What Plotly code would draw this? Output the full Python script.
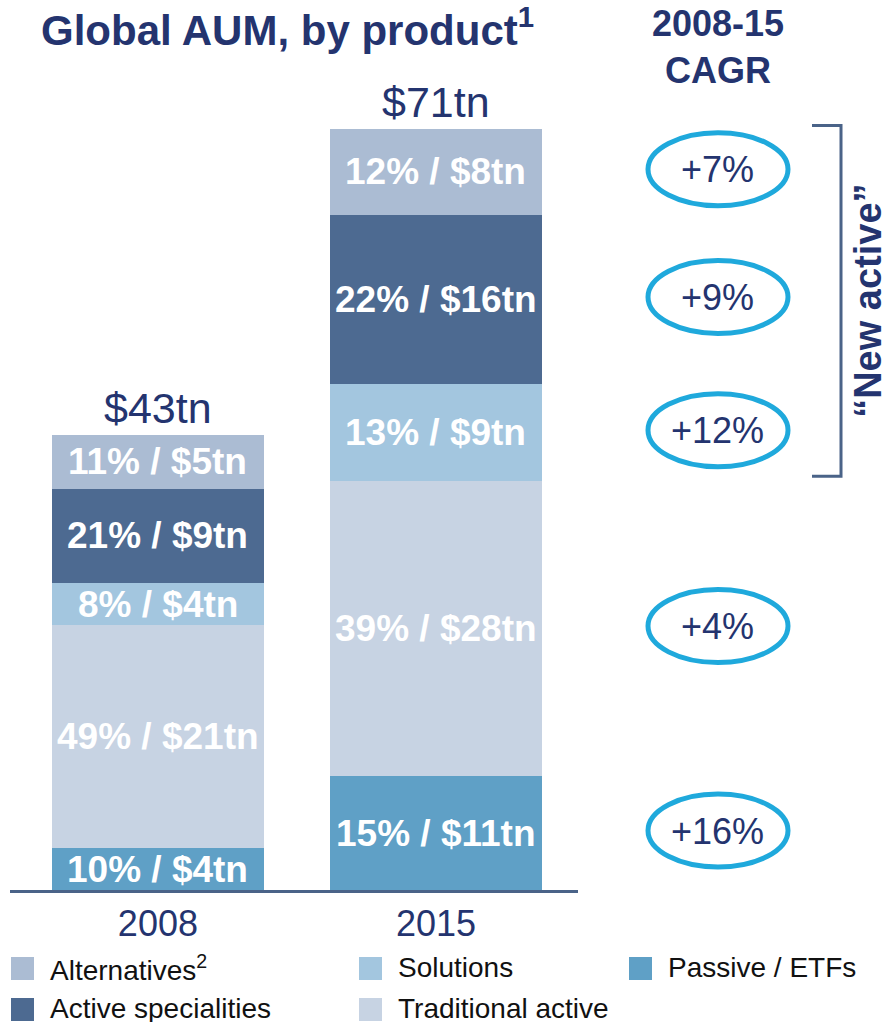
import plotly.graph_objects as go

# ---------------- data ----------------
years = ["2008", "2015"]
series_names = ["Passive / ETFs", "Traditional active", "Solutions",
                "Active specialities", "Alternatives<sup>2</sup>"]
aum_2008 = [3.9, 21.0, 3.9, 8.9, 5.0]      # $tn, bottom -> top
aum_2015 = [10.7, 27.7, 9.1, 15.9, 8.1]    # $tn, bottom -> top
labels_2008 = ["10% / $4tn", "49% / $21tn", "8% / $4tn", "21% / $9tn", "11% / $5tn"]
labels_2015 = ["15% / $11tn", "39% / $28tn", "13% / $9tn", "22% / $16tn", "12% / $8tn"]
total_labels = ["$43tn", "$71tn"]
cagr_labels = ["+16%", "+4%", "+12%", "+9%", "+7%"]

# ---------------- style ----------------
colors = ["#5fa0c6", "#c7d3e3", "#a3c6df", "#4d6a91", "#abbcd3"]
navy = "#24346f"
axis_col = "#4a6388"
ellipse_col = "#1fa9dc"
FONT = "Liberation Sans, Arial, sans-serif"

W, H = 890, 1022
L, R, T, B = 10, 312, 20, 132
plot_w = W - L - R
plot_h = H - T - B
ymax = 81.7


def px_x(px):
    return (px - L) / plot_w


def px_y(py):
    return (H - B - py) / plot_h


fig = go.Figure()
for i, name in enumerate(series_names):
    fig.add_trace(go.Bar(
        x=years, y=[aum_2008[i], aum_2015[i]], name=name,
        marker=dict(color=colors[i], line=dict(width=0)),
        width=0.763, showlegend=False, hoverinfo="skip"))

annotations = []
shapes = []

# segment labels + totals (x given as category index)
for yi, (vals, labs) in enumerate([(aum_2008, labels_2008), (aum_2015, labels_2015)]):
    cum = 0
    for v, lab in zip(vals, labs):
        annotations.append(dict(x=yi, y=cum + v / 2, text=f"<b>{lab}</b>", showarrow=False,
                                font=dict(family=FONT, size=37, color="white"),
                                xanchor="center", yanchor="middle"))
        cum += v
    annotations.append(dict(x=yi, y=cum, text=total_labels[yi], showarrow=False,
                            font=dict(family=FONT, size=43, color=navy),
                            xanchor="center", yanchor="bottom", yshift=1))

# CAGR ellipses + labels (aligned to 2015 segments)
cx0, cx1 = px_x(648), px_x(788)
cum = 0
for v, lab in zip(aum_2015, cagr_labels):
    mid = cum + v / 2
    cum += v
    shapes.append(dict(type="circle", xref="paper", yref="y", x0=cx0, x1=cx1,
                       ysizemode="pixel", yanchor=mid, y0=-34, y1=39,
                       line=dict(color=ellipse_col, width=5)))
    annotations.append(dict(xref="paper", yref="y", x=(cx0 + cx1) / 2, y=mid, text=lab,
                            showarrow=False, font=dict(family=FONT, size=36, color=navy),
                            xanchor="center", yanchor="middle", yshift=2))

# "New active" bracket
b_bot = aum_2015[0] + aum_2015[1] + 0.45
b_top = sum(aum_2015) + 0.3
bx, btx = px_x(841), px_x(812)
shapes.append(dict(type="path", xref="paper", yref="y",
                   path=f"M {btx},{b_top} L {bx},{b_top} L {bx},{b_bot} L {btx},{b_bot}",
                   line=dict(color=axis_col, width=3)))
annotations.append(dict(xref="paper", yref="y", x=px_x(868), y=(b_top + b_bot) / 2,
                        text="<b>\u201cNew active\u201d</b>", textangle=-90, showarrow=False,
                        font=dict(family=FONT, size=38, color=navy),
                        xanchor="center", yanchor="middle"))

# Titles
annotations.append(dict(xref="paper", yref="paper", x=px_x(287), y=px_y(27),
                        text="<b>Global AUM, by product<sup>1</sup></b>", showarrow=False,
                        font=dict(family=FONT, size=42, color=navy),
                        xanchor="center", yanchor="middle"))
annotations.append(dict(xref="paper", yref="paper", x=px_x(718), y=px_y(47),
                        text="<b>2008-15<br>CAGR</b>", showarrow=False,
                        font=dict(family=FONT, size=36, color=navy),
                        xanchor="center", yanchor="middle"))

# Manual legend
legend_pos = {  # series index -> (square left px, row top px)
    4: (11, 957), 2: (359, 957), 0: (629, 957),
    3: (11, 998), 1: (359, 998),
}
for idx, (lx, ty) in legend_pos.items():
    shapes.append(dict(type="rect", xref="paper", yref="paper",
                       x0=px_x(lx), x1=px_x(lx + 23), y0=px_y(ty + 23), y1=px_y(ty),
                       fillcolor=colors[idx], line=dict(width=0)))
    annotations.append(dict(xref="paper", yref="paper", x=px_x(lx + 37), y=px_y(ty + 10.5),
                            text=series_names[idx], showarrow=False,
                            font=dict(family=FONT, size=28, color="#111111"),
                            xanchor="left", yanchor="middle"))

fig.update_layout(
    width=W, height=H, barmode="stack", bargap=0,
    margin=dict(l=L, r=R, t=T, b=B, autoexpand=False),
    paper_bgcolor="white", plot_bgcolor="white",
    xaxis=dict(type="category", range=[-0.532, 1.511], showline=True, linecolor=axis_col,
               linewidth=3, ticks="", showgrid=False, zeroline=False,
               tickfont=dict(family=FONT, size=36, color=navy)),
    yaxis=dict(range=[0, ymax], visible=False, showgrid=False, zeroline=False),
    annotations=annotations, shapes=shapes, showlegend=False,
)

fig.write_html("out.html", config={"displayModeBar": False},
               post_script="document.body.style.margin='0';")
